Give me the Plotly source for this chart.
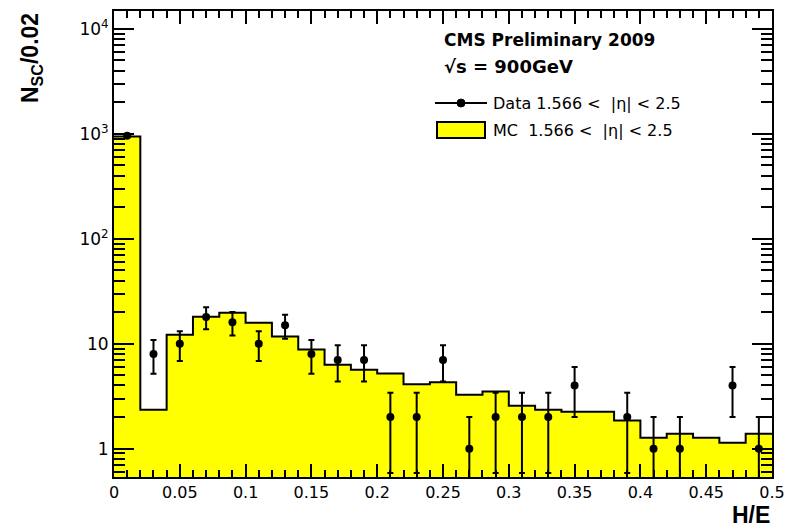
import numpy as np
import plotly.graph_objects as go

# ---- data ----
bin_edges = [round(0.02 * i, 2) for i in range(26)]
bin_centers = [round(0.01 + 0.02 * i, 2) for i in range(25)]
mc_counts = [940, 2.35, 12.2, 18.1, 19.7, 15.8, 11.7, 8.8, 6.3, 5.65, 5.2, 4.1,
             4.3, 3.27, 3.5, 2.57, 2.35, 2.25, 2.25, 1.85, 1.27, 1.39, 1.27, 1.14, 1.39]
data_counts = [960, 8, 10, 18, 16, 10, 15, 8, 7, 7, 2, 2, 7, 1, 2, 2, 2, 4, 0, 2,
               1, 1, 0, 4, 1]
y_tickvals = [1, 10, 100, 1000, 10000]
y_ticktext = ["1", "10", "10<sup>2</sup>", "10<sup>3</sup>", "10<sup>4</sup>"]

# ---- geometry (pixels) ----
W, H = 785, 530
L, R, T, B = 114, 772, 11, 477
PW, PH = R - L, B - T


def px(x):
    return (x - L) / PW


def py(y):
    return (B - y) / PH


fig = go.Figure()

# MC filled histogram
fig.add_trace(go.Bar(x=bin_centers, y=mc_counts, width=0.02,
                     marker=dict(color="#ffff00", line=dict(width=0)),
                     showlegend=False, hoverinfo="skip"))
# MC outline
fig.add_trace(go.Scatter(x=bin_edges, y=mc_counts + [mc_counts[-1]], mode="lines",
                         line=dict(color="black", width=2, shape="hv"),
                         showlegend=False, hoverinfo="skip"))

# data points with sqrt(N) errors
dx = [x for x, n in zip(bin_centers, data_counts) if n > 0]
dy = [n for n in data_counts if n > 0]
err_up = [float(np.sqrt(n)) for n in dy]
err_dn = [min(float(np.sqrt(n)), n - 1e-3) for n in dy]
fig.add_trace(go.Scatter(x=dx, y=dy, mode="markers",
                         marker=dict(color="black", size=8, symbol="circle"),
                         error_y=dict(type="data", array=err_up, arrayminus=err_dn,
                                      color="black", thickness=2, width=3),
                         showlegend=False))

font = "Liberation Sans, Arial, Helvetica, sans-serif"
wide = "DejaVu Sans, Verdana, sans-serif"

fig.update_layout(
    width=W, height=H,
    margin=dict(l=L, r=W - R, t=T, b=H - B, autoexpand=False),
    paper_bgcolor="white", plot_bgcolor="white",
    bargap=0,
    font=dict(family=wide, size=16, color="black"),
    xaxis=dict(range=[0, 0.5], dtick=0.05, tick0=0, ticks="inside", ticklen=13,
               tickwidth=1.5, tickcolor="black", showgrid=False, zeroline=False,
               showline=True, linecolor="black", linewidth=2, mirror="ticks",
               automargin=False,
               tickfont=dict(size=16, family=wide),
               minor=dict(dtick=0.01, ticks="inside", ticklen=7, tickwidth=1.5,
                          tickcolor="black", showgrid=False)),
    yaxis=dict(type="log", range=[-0.27, 4.17], tickvals=y_tickvals,
               ticktext=y_ticktext, ticks="inside", ticklen=20, tickwidth=1.5,
               tickcolor="black", showgrid=False, zeroline=False, showline=True,
               linecolor="black", linewidth=2, mirror="ticks",
               automargin=False,
               tickfont=dict(size=17, family=wide),
               minor=dict(tickvals=[m * 10 ** d for d in range(-1, 5) for m in range(2, 10)],
                          ticks="inside", ticklen=11, tickwidth=1.5, tickcolor="black",
                          showgrid=False)),
)

# axis titles
fig.add_annotation(xref="paper", yref="paper", x=px(31), y=1.0, xanchor="center",
                   yanchor="top", textangle=-90, showarrow=False,
                   text="<b>N<sub>SC</sub>/0.02</b>", font=dict(size=23, family=font))
fig.add_annotation(xref="paper", yref="paper", x=1.0, y=py(515), xanchor="right",
                   yanchor="middle", showarrow=False, text="<b>H/E</b>",
                   font=dict(size=23, family=font))

# header texts
fig.add_annotation(xref="paper", yref="paper", x=px(442), y=py(40), xanchor="left",
                   yanchor="middle", showarrow=False, text="<b>CMS Preliminary 2009</b>",
                   font=dict(size=17, family=wide))
fig.add_annotation(xref="paper", yref="paper", x=px(442), y=py(66), xanchor="left",
                   yanchor="middle", showarrow=False, text="<b>√s = 900GeV</b>",
                   font=dict(size=18, family=wide))

# legend
fig.add_shape(type="line", xref="paper", yref="paper", x0=px(435), x1=px(487),
              y0=py(103), y1=py(103), line=dict(color="black", width=2))
fig.add_shape(type="circle", xref="paper", yref="paper", x0=px(457), x1=px(465),
              y0=py(107), y1=py(99), fillcolor="black", line=dict(color="black", width=1))
fig.add_annotation(xref="paper", yref="paper", x=px(491), y=py(103), xanchor="left",
                   yanchor="middle", showarrow=False,
                   text="Data 1.566 <  |η| < 2.5", font=dict(size=16, family=wide))
fig.add_shape(type="rect", xref="paper", yref="paper", x0=px(437), x1=px(485),
              y0=py(138), y1=py(122), fillcolor="#ffff00", line=dict(color="black", width=2))
fig.add_annotation(xref="paper", yref="paper", x=px(491), y=py(130), xanchor="left",
                   yanchor="middle", showarrow=False,
                   text="MC  1.566 <  |η| < 2.5", font=dict(size=16, family=wide))

fig.write_html("out.html")
